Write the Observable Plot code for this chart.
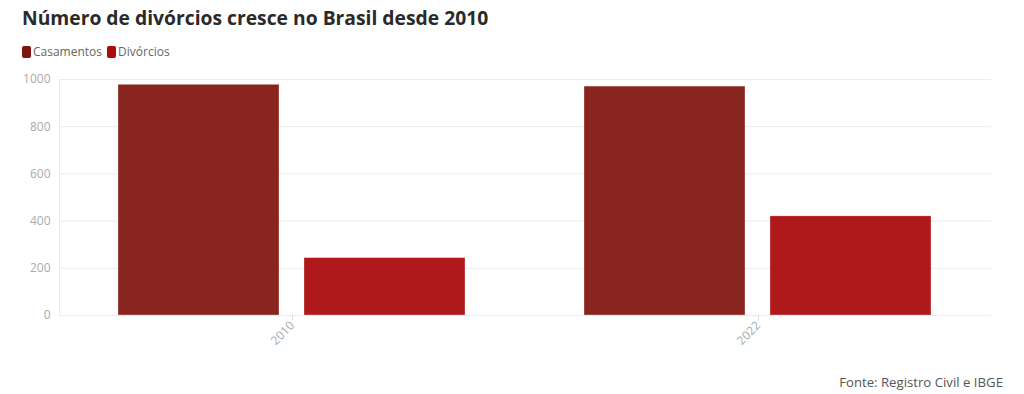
<!DOCTYPE html>
<html><head><meta charset="utf-8">
<script src="https://cdn.jsdelivr.net/npm/d3@7"></script>
<script src="https://cdn.jsdelivr.net/npm/@observablehq/plot@0.6"></script>
<style>
body{margin:0;background:#fff;font-family:"Open Sans",sans-serif;}
#wrap{position:relative;width:1024px;height:394px;overflow:hidden;}
#title{position:absolute;left:22px;top:4px;font-size:19.3px;font-weight:700;color:#2a2a2a;white-space:nowrap;}
#legend{position:absolute;left:22px;top:43px;font-size:12px;color:#666;display:flex;align-items:center;white-space:nowrap;}
#legend .sw{display:inline-block;width:9px;height:12px;border-radius:2px;margin-right:2px;}
#legend .it{display:flex;align-items:center;margin-right:5px;}
#caption{position:absolute;right:21px;top:373px;font-size:13.2px;color:#555;white-space:nowrap;}
#chart{position:absolute;left:0;top:0;}
</style></head>
<body>
<div id="wrap">
  <div id="chart"></div>
  <div id="title"></div>
  <div id="legend"></div>
  <div id="caption"></div>
</div>
<script>
const titleText = "Número de divórcios cresce no Brasil desde 2010";
const captionText = "Fonte: Registro Civil e IBGE";
const years = ["2010", "2022"];
const series = ["Casamentos", "Divórcios"];
const casamentos = [977.6, 970.0];
const divorcios = [243.2, 420.0];
const yTicks = [0, 200, 400, 600, 800, 1000];
const barColors = ["#89251F", "#AF191B"];
const swatchColors = ["#7E140F", "#AC0A0B"];

const data = [];
years.forEach((y, i) => {
  data.push({year: y, series: series[0], value: casamentos[i]});
  data.push({year: y, series: series[1], value: divorcios[i]});
});

document.getElementById("title").textContent = titleText;
document.getElementById("caption").textContent = captionText;
const leg = document.getElementById("legend");
series.forEach((s, i) => {
  const it = document.createElement("span");
  it.className = "it";
  const sw = document.createElement("span");
  sw.className = "sw";
  sw.style.background = swatchColors[i];
  it.appendChild(sw);
  it.appendChild(document.createTextNode(s));
  leg.appendChild(it);
});

const chart = Plot.plot({
  width: 1024,
  height: 394,
  marginTop: 79,
  marginBottom: 79,
  marginLeft: 58,
  marginRight: 33,
  style: {fontFamily: "Open Sans, sans-serif", fontSize: "12px", background: "transparent", color: "#aaa"},
  fx: {domain: years, padding: 0, label: null},
  x: {domain: series, paddingInner: 0.134, paddingOuter: 0.315, axis: null},
  y: {domain: [0, 1000], axis: null},
  color: {domain: series, range: barColors},
  marks: [
    Plot.gridY(yTicks, {stroke: "#ebebeb", strokeOpacity: 1}),
    Plot.frame({anchor: "left", facetAnchor: "left", stroke: "#ebebeb", strokeOpacity: 1}),
    Plot.axisY(yTicks, {tickSize: 0, tickPadding: 9, fill: "#aaa", label: null, tickFormat: d => String(d)}),
    Plot.barY(data, {fx: "year", x: "series", y: "value", fill: "series", stroke: "#fff", strokeOpacity: 0.6, strokeWidth: 0.5}),
    Plot.ruleY([0], {stroke: "#ebebeb"}),
    Plot.axisFx({anchor: "bottom", tickRotate: -45, tickSize: 5, tickPadding: 3, stroke: "#ddd", fill: "#aaa", label: null})
  ]
});
document.getElementById("chart").appendChild(chart);
</script>
</body></html>
